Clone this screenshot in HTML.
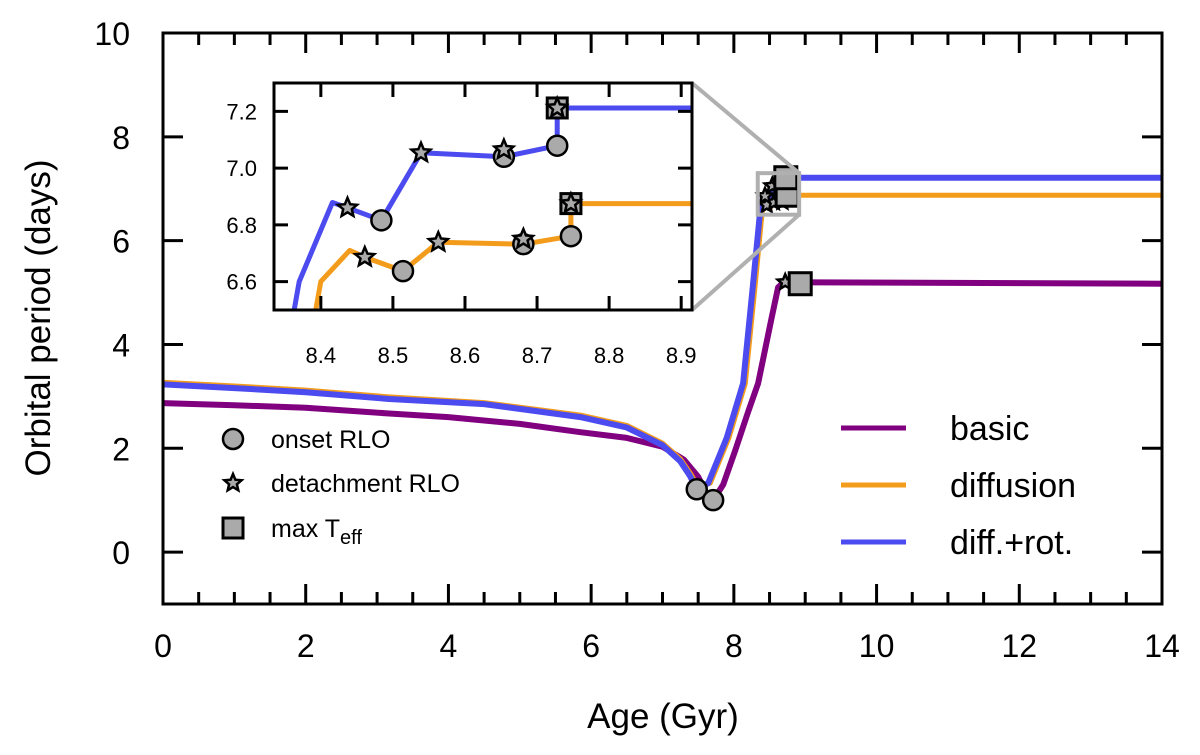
<!DOCTYPE html>
<html><head><meta charset="utf-8"><style>
html,body{margin:0;background:#fff;overflow:hidden;width:1200px;height:755px}
svg{display:block;font-family:"Liberation Sans","DejaVu Sans",sans-serif}
</style></head><body>
<svg id="chart" width="1200" height="755" viewBox="0 0 1200 755"></svg>
<script>
// ---- data ----
const mainXTicks=[0,2,4,6,8,10,12,14];
const mainYTicks=[0,2,4,6,8,10];
const seriesNames=["basic","diffusion","diff.+rot."];
const seriesColors=["#800080","#f39c1c","#4b4bf0"];
const basicAge=[0,1,2,3.17,4,5,5.85,6.5,7.0,7.3,7.5,7.62,7.71,7.85,8.02,8.2,8.34,8.53,8.62,8.7,14];
const basicP=[2.87,2.83,2.78,2.67,2.6,2.47,2.31,2.2,2.03,1.78,1.45,1.12,1.0,1.3,1.96,2.7,3.25,4.52,5.1,5.2,5.17];
const diffAge=[0,1,2,3.17,4.5,5.85,6.5,7.0,7.25,7.4,7.5,7.67,7.93,8.16,8.3,8.4,8.44,8.461,8.514,8.563,8.681,8.747,8.747,14];
const diffP=[3.27,3.2,3.12,2.99,2.88,2.64,2.44,2.1,1.8,1.5,1.25,1.33,2.2,3.25,5.17,6.6,6.71,6.686,6.637,6.739,6.732,6.76,6.875,6.875];
const rotAge=[0,1,2,3.17,4.5,5.85,6.5,7.0,7.25,7.38,7.48,7.64,7.9,8.13,8.27,8.37,8.416,8.437,8.484,8.539,8.654,8.728,8.728,14];
const rotP=[3.23,3.16,3.08,2.95,2.85,2.6,2.4,2.06,1.75,1.48,1.21,1.33,2.2,3.25,5.17,6.6,6.879,6.86,6.816,7.054,7.04,7.079,7.212,7.212];
const mainCircleAge=[7.48,7.71];
const mainCircleP=[1.21,1.0];
const insetXTicks=[8.4,8.5,8.6,8.7,8.8,8.9];
const insetYTicks=[6.6,6.8,7.0,7.2];
const circAge=[[],[8.514,8.681,8.747],[8.484,8.654,8.728]];
const circP=[[],[6.637,6.732,6.76],[6.816,7.04,7.079]];
const starAge=[[8.72],[8.461,8.563,8.681,8.747],[8.437,8.539,8.654,8.728]];
const starP=[[5.2],[6.686,6.739,6.75,6.875],[6.86,7.054,7.065,7.212]];
const sqAge=[8.93,8.747,8.728];
const sqP=[5.17,6.875,7.212];

const NS="http://www.w3.org/2000/svg";
const svg=document.getElementById('chart');
function mk(tag,attrs,parent){const e=document.createElementNS(NS,tag);for(const k in attrs)e.setAttribute(k,attrs[k]);(parent||svg).appendChild(e);return e;}
const X0=163,X1=1162,Y0=604,Y1=33;
const mx=v=>X0+(v-0)/14*(X1-X0);
const my=v=>Y0-(v+1)/11*(Y0-Y1);
const I0=274,I1=692,J0=310,J1=83;
const ix=v=>I0+(v-8.335)/(8.915-8.335)*(I1-I0);
const iy=v=>J0-(v-6.5)/(7.3-6.5)*(J0-J1);

function star(cx,cy,r,parent){let d="";for(let i=0;i<10;i++){const a=-Math.PI/2+i*Math.PI/5;const rr=i%2?r*0.45:r;d+=(i?"L":"M")+(cx+rr*Math.cos(a)).toFixed(1)+","+(cy+rr*Math.sin(a)).toFixed(1);}
 return mk('path',{d:d+"Z",fill:"#aaa",stroke:"#000","stroke-width":2.5,"stroke-linejoin":"miter"},parent);}

const defs=mk('defs',{});
const cp=mk('clipPath',{id:'mclip'},defs);mk('rect',{x:X0,y:Y1,width:X1-X0,height:Y0-Y1},cp);
const cp2=mk('clipPath',{id:'iclip'},defs);mk('rect',{x:I0,y:J1,width:I1-I0,height:J0-J1},cp2);

const ages=[basicAge,diffAge,rotAge],ps=[basicP,diffP,rotP];
const mainG=mk('g',{'clip-path':'url(#mclip)'});


for(let s=0;s<3;s++){
 const d=ages[s].map((a,i)=>(i?"L":"M")+mx(a).toFixed(1)+","+my(ps[s][i]).toFixed(1)).join("");
 const p=mk('path',{d:d,fill:"none",stroke:seriesColors[s],"stroke-width":s==1?5:6,"stroke-linejoin":"round"},mainG);
 
 
}
for(let i=0;i<mainCircleAge.length;i++){
 const c=mk('circle',{cx:mx(mainCircleAge[i]),cy:my(mainCircleP[i]),r:10,fill:"#aaa",stroke:"#000","stroke-width":2.5},mainG);
 
 
}
for(let s=0;s<3;s++){for(let i=0;i<starAge[s].length;i++){
 const st=star(mx(starAge[s][i]),my(starP[s][i]),8,mainG);
 
 
}}
for(let s=0;s<3;s++){
 const q=mk('rect',{x:mx(sqAge[s])-11,y:my(sqP[s])-11,width:22,height:22,fill:"#aaa",stroke:"#000","stroke-width":3},mainG);
 
 
}
const zb=mk('rect',{x:mx(8.335),y:my(7.3),width:mx(8.915)-mx(8.335),height:my(6.5)-my(7.3),fill:"none",stroke:"#b0b0b0","stroke-width":4});


mk('line',{x1:I1,y1:J1,x2:mx(8.915),y2:my(7.3),stroke:"#b0b0b0","stroke-width":4});
mk('line',{x1:I1,y1:J0,x2:mx(8.915),y2:my(6.5),stroke:"#b0b0b0","stroke-width":4});

const fr=mk('rect',{x:X0,y:Y1,width:X1-X0,height:Y0-Y1,fill:"none",stroke:"#000","stroke-width":3});


for(let v=0;v<=14.001;v+=0.5){
 const L=Math.abs(v/2-Math.round(v/2))<1e-6?20:12;
 mk('line',{x1:mx(v),y1:Y0,x2:mx(v),y2:Y0-L,stroke:"#000","stroke-width":3});
 mk('line',{x1:mx(v),y1:Y1,x2:mx(v),y2:Y1+L,stroke:"#000","stroke-width":3});
}
mainXTicks.forEach(v=>{
 const t=mk('text',{x:mx(v),y:657,"font-size":32,"text-anchor":"middle"});t.textContent=v;
 
 
});
mainYTicks.forEach(v=>{
 mk('line',{x1:X0,y1:my(v),x2:X0+20,y2:my(v),stroke:"#000","stroke-width":3});
 mk('line',{x1:X1,y1:my(v),x2:X1-20,y2:my(v),stroke:"#000","stroke-width":3});
 const t=mk('text',{x:130,y:my(v)+12,"font-size":32,"text-anchor":"end"});t.textContent=v;
 
 
});
const xt=mk('text',{x:663,y:728,"font-size":35,"text-anchor":"middle"});xt.textContent="Age (Gyr)";

const yt=mk('text',{x:0,y:0,"font-size":35,"text-anchor":"middle",transform:"translate(50,318) rotate(-90)"});yt.textContent="Orbital period (days)";


mk('rect',{x:I0,y:J1,width:I1-I0,height:J0-J1,fill:"#fff"});
const insetG=mk('g',{'clip-path':'url(#iclip)'});


for(let s=1;s<3;s++){
 const d=ages[s].map((a,i)=>(i?"L":"M")+ix(a).toFixed(1)+","+iy(ps[s][i]).toFixed(1)).join("");
 const p=mk('path',{d:d,fill:"none",stroke:seriesColors[s],"stroke-width":5,"stroke-linejoin":"round"},insetG);
 
 
}
for(let s=1;s<3;s++){
 for(let i=0;i<circAge[s].length;i++){
  const c=mk('circle',{cx:ix(circAge[s][i]),cy:iy(circP[s][i]),r:10,fill:"#aaa",stroke:"#000","stroke-width":2.5},insetG);
  
 }
 const q=mk('rect',{x:ix(sqAge[s])-10,y:iy(sqP[s])-10,width:20,height:20,fill:"#aaa",stroke:"#000","stroke-width":3},insetG);
 
 for(let i=0;i<starAge[s].length;i++){
  const st=star(ix(starAge[s][i]),iy(starP[s][i]),10,insetG);
  
 }
}
const ifr=mk('rect',{x:I0,y:J1,width:I1-I0,height:J0-J1,fill:"none",stroke:"#000","stroke-width":3});

insetXTicks.forEach(v=>{
 mk('line',{x1:ix(v),y1:J0,x2:ix(v),y2:J0-14,stroke:"#000","stroke-width":3});
 mk('line',{x1:ix(v),y1:J1,x2:ix(v),y2:J1+14,stroke:"#000","stroke-width":3});
 const t=mk('text',{x:ix(v),y:363,"font-size":22,"text-anchor":"middle"});t.textContent=v.toFixed(1);
 
});
insetYTicks.forEach(v=>{
 mk('line',{x1:I0,y1:iy(v),x2:I0+14,y2:iy(v),stroke:"#000","stroke-width":3});
 mk('line',{x1:I1,y1:iy(v),x2:I1-14,y2:iy(v),stroke:"#000","stroke-width":3});
 const t=mk('text',{x:257,y:iy(v)+8,"font-size":22,"text-anchor":"end"});t.textContent=v.toFixed(1);
 
});

seriesNames.forEach((n,i)=>{
 const y=428+i*57;
 const g=mk('g',{});
 
 
 mk('line',{x1:841,y1:y,x2:906,y2:y,stroke:seriesColors[i],"stroke-width":5},g);
 const t=mk('text',{x:950,y:y+12,"font-size":34},g);t.textContent=n;
});
const ml=[["onset RLO",448],["detachment RLO",492],["max T",537]];
ml.forEach((m,i)=>{
 const g=mk('g',{});
 
 
 const cx=233,cy=m[1]-9;
 if(i==0)mk('circle',{cx:cx,cy:cy,r:10,fill:"#aaa",stroke:"#000","stroke-width":2.5},g);
 else if(i==1)star(cx,cy,9,g);
 else mk('rect',{x:cx-10,y:cy-10,width:20,height:20,fill:"#aaa",stroke:"#000","stroke-width":3},g);
 const t=mk('text',{x:271,y:m[1],"font-size":25},g);t.textContent=m[0];
 if(i==2){const s=mk('tspan',{dy:7,"font-size":20},t);s.textContent="eff";}
});
</script>
</body></html>
